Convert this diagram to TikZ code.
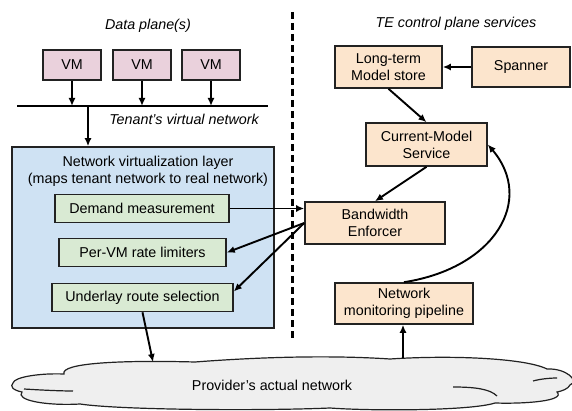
\documentclass[tikz,border=0pt]{standalone}
\usepackage{fontspec}
\setmainfont{Liberation Sans}
\usetikzlibrary{arrows.meta}
\definecolor{vmpink}{HTML}{EAD1DC}
\definecolor{svcorange}{HTML}{FCE5CD}
\definecolor{modgreen}{HTML}{D9EAD3}
\definecolor{layerblue}{HTML}{CFE2F3}
\definecolor{cloudgray}{HTML}{EFEFEF}
\definecolor{edge}{HTML}{222222}

\begin{document}
\begin{tikzpicture}[x=1pt,y=-1pt,
	txt/.style={font=\fontsize{14.3}{17}\selectfont},
	title/.style={font=\fontsize{14.3}{17}\selectfont\itshape},
	box/.style={txt,draw=edge,line width=1.6pt,inner sep=0pt,align=center},
	vm/.style={box,fill=vmpink,minimum width=58pt,minimum height=30pt},
	svc/.style={box,fill=svcorange},
	part/.style={box,fill=modgreen,minimum height=28pt},
	arr/.style={line width=1.9pt,-{Latex[length=8pt,width=7pt]}},
	outline/.style={draw=edge,line width=1.2pt}]
	\useasboundingbox (0,0) rectangle (572,411);

	\node[title] (dptitle) at (148,26) {Data plane(s)};
	\node[title] (tetitle) at (456,24) {TE control plane services};
	\draw[line width=2.2pt,dash pattern=on 7pt off 4pt] (292.5,12) -- (292.5,341);

	\node[vm] (vmA) at (72,65) {VM};
	\node[vm] (vmB) at (142,65) {VM};
	\node[vm] (vmC) at (211,65) {VM};
	\coordinate (busL) at (17,106);
	\coordinate (busR) at (268,106);
	\coordinate (tap) at (88,106);
	\draw[line width=2pt] (busL) -- (busR);
	\draw[arr] (vmA) -- (vmA |- busL);
	\draw[arr] (vmB) -- (vmB |- busL);
	\draw[arr] (vmC) -- (vmC |- busL);
	\node[title] (tenant) at (184,119) {Tenant's virtual network};

	\node[box,fill=layerblue,minimum width=262pt,minimum height=181pt] (nvl) at (143,237.5) {};
	\node[txt,align=center] (nvltitle) at (148,171.5) {Network virtualization layer\\(maps tenant network to real network)};
	\node[part,minimum width=174pt] (demand) at (142,208.5) {Demand measurement};
	\node[part,minimum width=167pt] (pervm) at (142.5,252.5) {Per-VM rate limiters};
	\node[part,minimum width=181pt] (underlay) at (142.5,297.5) {Underlay route selection};
	\draw[arr] (tap) -- (tap |- nvl.north);

	\node[svc,minimum width=107pt,minimum height=42pt] (ltm) at (388.5,67) {Long-term\\Model store};
	\node[svc,minimum width=98pt,minimum height=40pt] (spanner) at (521,67) {Spanner};
	\node[svc,minimum width=121pt,minimum height=43pt] (cms) at (426.5,144.5) {Current-Model\\Service};
	\node[svc,minimum width=140pt,minimum height=42pt] (bwe) at (375,223) {Bandwidth\\Enforcer};
	\node[svc,minimum width=138pt,minimum height=41pt] (nmp) at (404,303.5) {Network\\monitoring pipeline};

	\draw[outline,fill=cloudgray] (13,383) .. controls (14,377) and (40,373) .. (64,374)
		.. controls (60,363) and (120,360) .. (195,362)
		.. controls (260,357) and (330,355) .. (390,359)
		.. controls (450,355) and (525,358) .. (547,369)
		.. controls (566,368) and (580,381) .. (570,385)
		.. controls (568,389) and (562,391) .. (557,392)
		.. controls (566,401) and (525,404) .. (495,403)
		.. controls (470,411) and (370,411) .. (330,408)
		.. controls (260,411) and (120,410) .. (80,404)
		.. controls (45,406) and (15,400) .. (22,392)
		.. controls (12,390) and (10,386) .. (13,383) -- cycle;
	\draw[outline] (24,389) .. controls (40,390) and (60,391) .. (73,391);
	\draw[outline] (533,381) .. controls (540,379) and (550,378) .. (557,378);
	\draw[outline] (453,387) .. controls (475,387) and (490,389) .. (497,396);
	\node[txt] (provider) at (272,385) {Provider's actual network};
	\coordinate (cloudA) at (153,362);
	\coordinate (cloudB) at (403,358);

	\draw[arr] (spanner) -- (ltm);
	\draw[arr] (ltm.south) -- (cms.north);
	\draw[arr] (cms.south) -- (bwe.north);
	\draw[arr] (demand.east) -- (demand.east -| bwe.west);
	\draw[arr] (bwe.west) -- (pervm.east);
	\draw[arr] (bwe.west) -- ([yshift=6pt]underlay.east);
	\draw[arr] (nmp.north) .. controls (495,268) and (535,200) .. (cms.east);
	\draw[arr] (underlay.south) -- (cloudA);
	\draw[arr] (cloudB) -- (cloudB |- nmp.south);
\end{tikzpicture}
\end{document}
